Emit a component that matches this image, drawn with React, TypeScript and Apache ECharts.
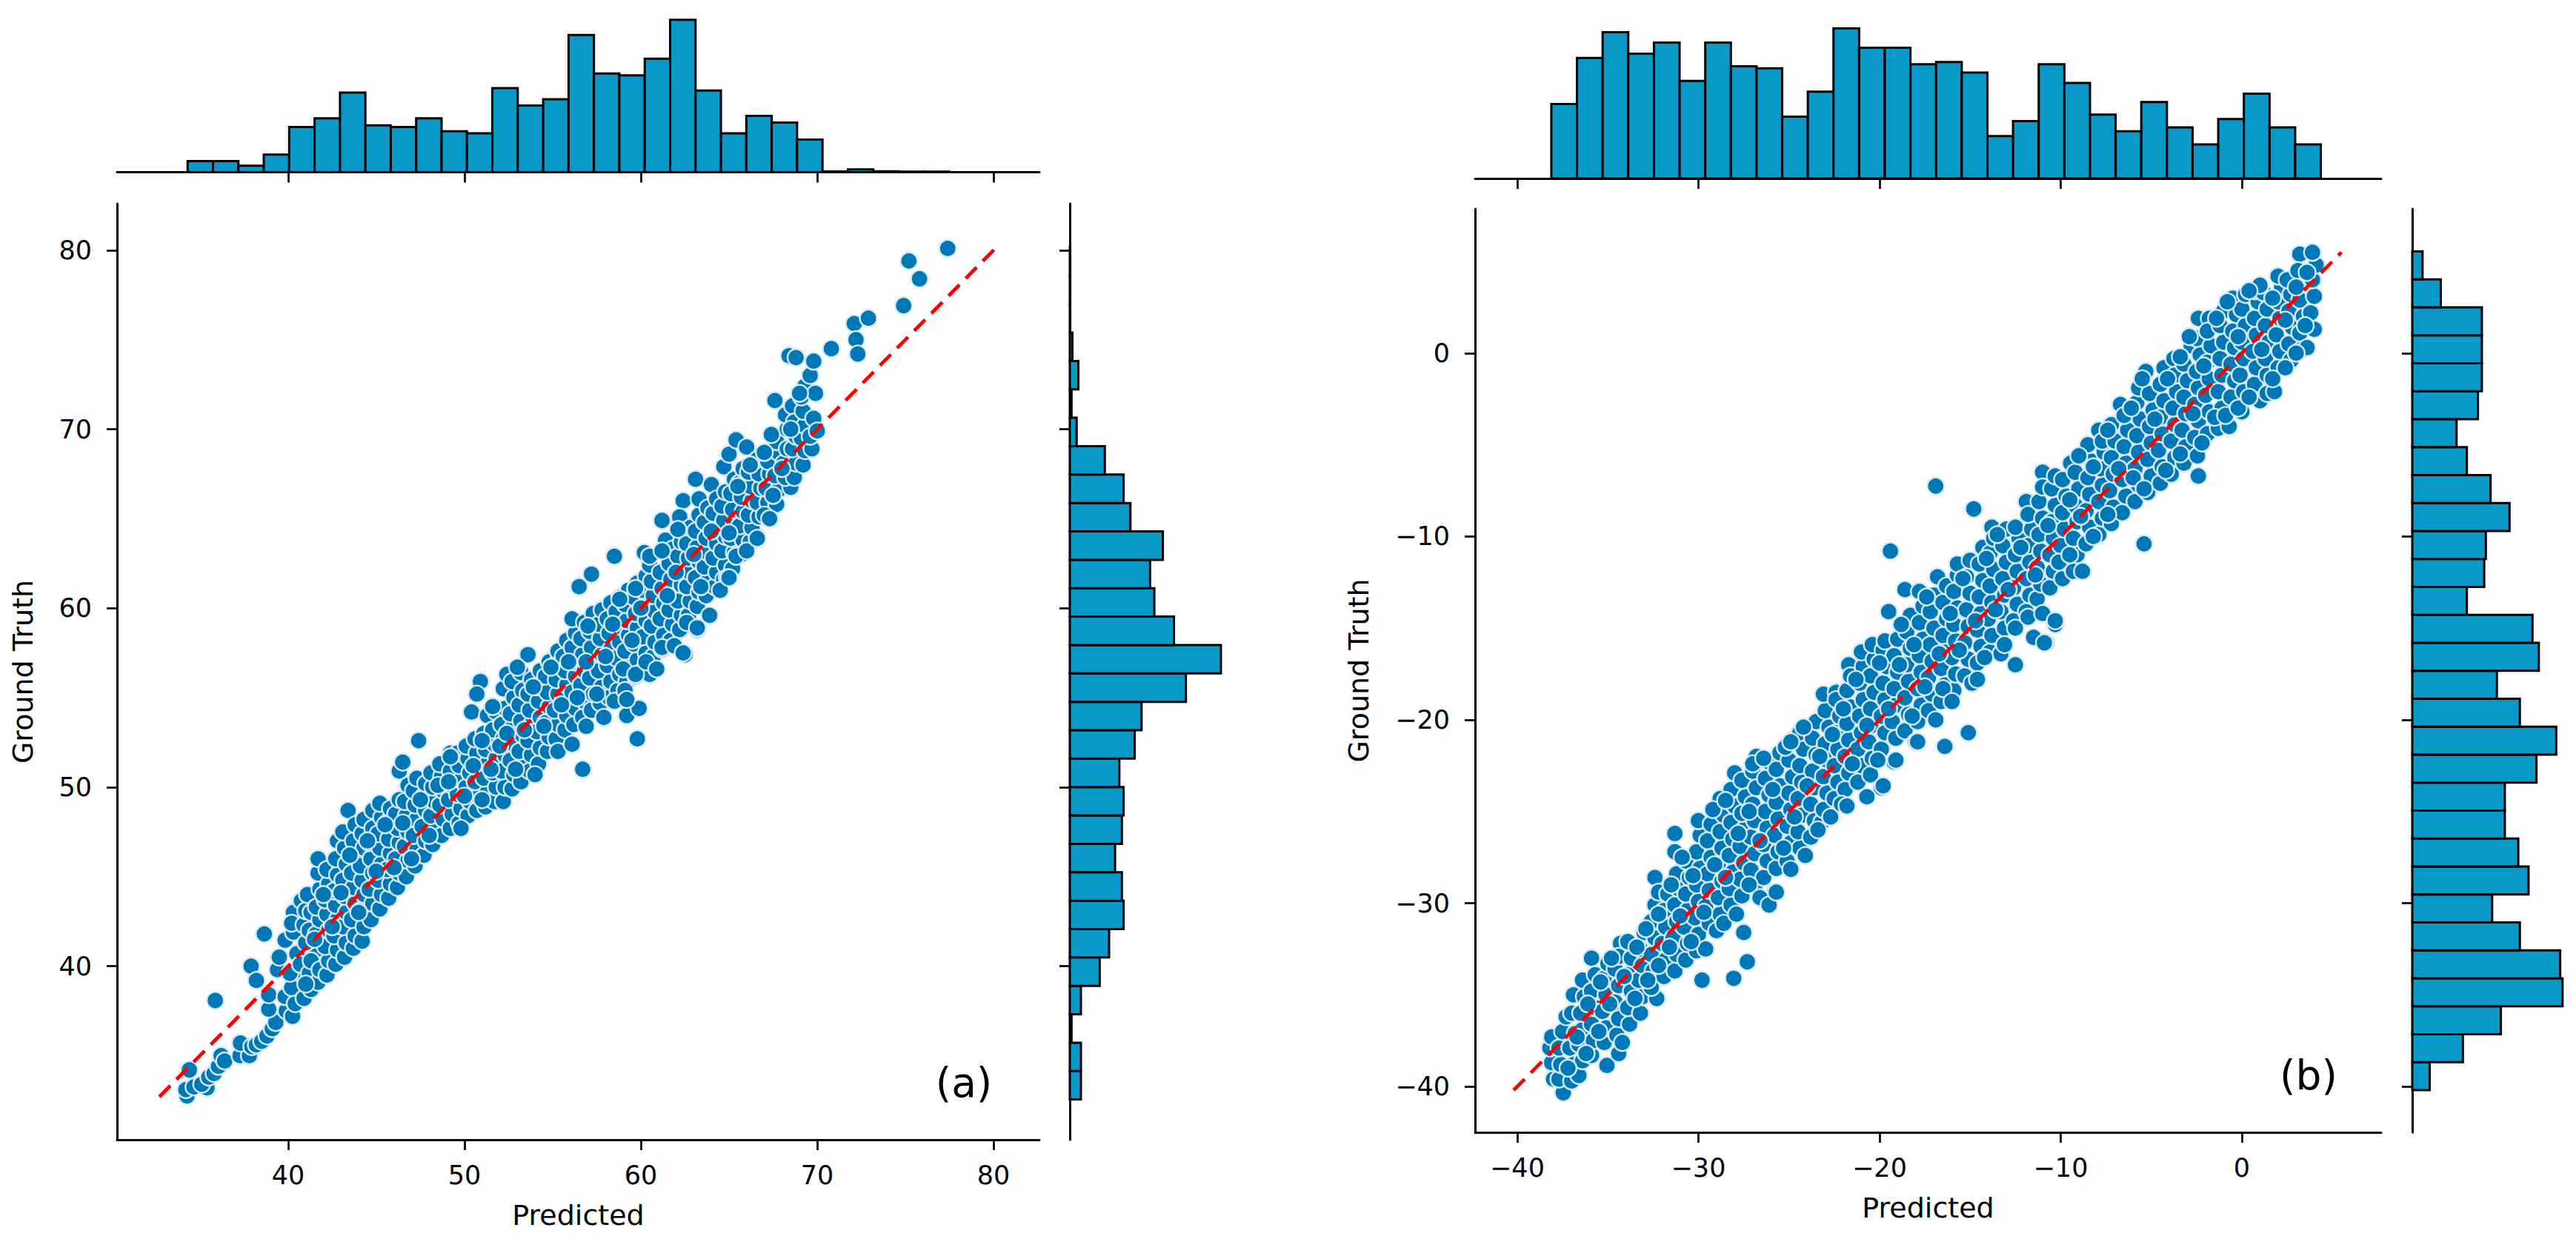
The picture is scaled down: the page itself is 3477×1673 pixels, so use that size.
import React, { useEffect, useRef } from "react";
import * as echarts from "echarts";

const ticksA = [40, 50, 60, 70, 80];
const ticksB = [-40, -30, -20, -10, 0];
const rangeA = [30.3, 82.6];
const rangeBx = [-42.33, 7.69];
const rangeBy = [-42.5, 7.87];

const lineA = [[32.7, 32.7], [80.2, 80.2]];
const lineB = [[-40.2, -40.2], [5.5, 5.5]];

const topBinsA = { start: 34.3, width: 1.44 };
const rightBinsA = { start: 32.55, width: 1.587 };
const topBinsB = { start: -38.12, width: 1.416 };
const rightBinsB = { start: -40.2, width: 1.525 };

const topHistA = [7.3, 7.3, 4.2, 11.5, 29.7, 35.4, 52.3, 30.7, 29.7, 35.4, 26.8, 25.5, 55.2, 43.8, 47.9, 90.1, 64.8, 63.5, 74.5, 100, 53.6, 25.5, 37, 32.6, 21.4, 0.5, 1.8, 0.6, 0.4, 0.4];
const rightHistA = [13, 13, 2, 13, 35, 46, 63, 61, 53, 61, 63, 58, 76, 84, 136, 177, 122, 99, 94, 109, 71, 63, 41, 8, 2, 10, 3, 0.5, 0.5, 0.5];
const topHistB = [188, 304, 369, 315, 343, 246, 343, 283, 278, 156, 219, 379, 330, 330, 288, 294, 267, 107, 145, 288, 241, 161, 119, 193, 129, 86, 150, 214, 129, 86];
const rightHistB = [22, 64, 112, 190, 187, 136, 101, 147, 134, 117, 117, 157, 182, 136, 107, 160, 152, 69, 91, 93, 123, 99, 69, 56, 83, 88, 88, 88, 36, 13];

const pointsA: number[][] = [
[34.27,32.75],[34.2,33.1],[34.66,33.25],[34.4,34.2],[35.4,33.2],[35.1,33.4],[35.5,33.8],[35.8,34.0],[36.05,34.4],[36.2,35],[36.4,34.7],[35.87,38.08],
[37.27,35],[37.8,35],[37.3,35.7],[37.94,35.5],[38.2,35.6],[38.5,35.8],[38.8,36.1],[39.1,36.5],[39.3,36.85],[37.9,40],[38.65,41.8],[38.9,37.6],[39.9,37.5],[40.25,37.2],[38.9,38.4],[39.83,38.3],[38.2,39.2],[39.4,39.8],[39.5,40.5],[39.83,41.45],[40.3,43],[40.75,43.65],[41.6,40.9],[40.9,39.4],[40.5,40.7],
[40.4,37.9],[40.2,38.8],[40.1,39.6],[40.3,41.9],[40.2,42.4],[40.9,38.2],[40.7,40.1],[41.0,41.3],[40.9,42.3],[41.0,43.1],
[41.3,38.7],[41.2,39.6],[41.3,40.3],[41.2,42.0],[41.3,43.0],[41.1,44.0],[41.7,39.1],[41.8,39.8],[41.6,41.8],[41.8,42.6],[41.6,43.3],[41.8,44.3],[41.7,45.2],[41.7,46.0],
[42.2,39.5],[42.3,40.3],[42.1,41.1],[42.3,42.0],[42.2,42.9],[42.1,43.7],[42.3,44.6],[42.2,45.4],[42.7,40.1],[42.8,40.9],[42.6,41.7],[42.8,42.6],[42.7,43.4],[42.6,44.2],[42.8,45.1],[42.7,46.0],[42.8,47.0],
[43.2,40.5],[43.3,41.3],[43.1,42.2],[43.3,43.0],[43.2,43.9],[43.1,44.8],[43.3,45.7],[43.2,46.6],[43.1,47.5],[43.4,48.7],[43.7,41.0],[43.8,41.7],[43.6,42.6],[43.8,43.5],[43.7,44.4],[43.6,45.2],[43.8,46.1],[43.7,47.0],[43.8,47.9],
[44.2,41.4],[44.3,42.2],[44.1,43.1],[44.3,44.0],[44.2,44.8],[44.1,45.6],[44.3,46.6],[44.2,47.4],[44.3,48.2],[44.7,42.6],[44.8,43.5],[44.6,44.3],[44.8,45.2],[44.7,46.0],[44.6,46.9],[44.8,47.7],[44.8,48.7],
[45.2,43.2],[45.3,44.0],[45.1,44.8],[45.3,45.7],[45.2,46.6],[45.1,47.4],[45.3,48.3],[45.2,49.1],[45.7,43.8],[45.8,44.6],[45.6,45.4],[45.8,46.3],[45.7,47.1],[45.6,48.0],[45.8,48.8],
[46.2,44.4],[46.3,45.2],[46.1,46.0],[46.3,46.9],[46.2,47.7],[46.1,48.5],[46.3,49.3],[46.3,50.9],[46.7,45.0],[46.8,45.9],[46.6,46.7],[46.8,47.5],[46.7,48.4],[46.6,49.2],[46.8,50.1],[46.5,51.4],
[47.2,45.6],[47.3,46.5],[47.1,47.3],[47.3,48.2],[47.2,49.0],[47.1,49.8],[47.3,50.5],[47.4,52.6],[47.7,46.2],[47.8,47.0],[47.6,47.8],[47.8,48.7],[47.7,49.5],[47.8,50.2],
[48.2,46.8],[48.3,47.6],[48.1,48.4],[48.3,49.2],[48.2,50.0],[48.1,50.8],[48.7,47.3],[48.8,48.2],[48.6,49.0],[48.8,49.8],[48.7,50.6],[48.6,51.3],
[49.2,47.7],[49.3,48.5],[49.1,49.3],[49.3,50.1],[49.2,50.9],[49.2,51.9],[49.7,48.0],[49.8,48.8],[49.6,49.6],[49.8,50.4],[49.7,51.2],[49.6,51.9],
[50.2,48.4],[50.3,49.2],[50.1,50.0],[50.3,50.8],[50.2,51.6],[50.1,52.3],[50.4,54.2],[50.9,55.9],[50.7,55.2],[50.7,48.7],[50.8,49.5],[50.6,50.3],[50.8,51.1],[50.7,51.9],[50.6,52.7],
[51.2,48.9],[51.3,49.7],[51.1,50.5],[51.3,51.3],[51.2,52.1],[51.1,53.0],[51.3,54.0],[51.7,49.2],[51.8,50.0],[51.6,50.8],[51.8,51.6],[51.7,52.4],[51.6,53.2],[51.8,54.2],
[52.2,49.2],[52.3,50.0],[52.1,50.9],[52.3,51.8],[52.2,52.7],[52.1,53.5],[52.3,54.4],[52.2,55.5],[52.4,56.3],[52.7,49.9],[52.8,50.7],[52.6,51.5],[52.8,52.4],[52.7,53.3],[52.6,54.1],[52.8,55.0],[52.7,55.9],
[53.2,50.3],[53.3,51.1],[53.1,52.0],[53.3,52.9],[53.2,53.7],[53.1,54.6],[53.3,55.4],[53.2,56.4],[53.7,50.9],[53.8,51.8],[53.6,52.6],[53.8,53.5],[53.7,54.3],[53.6,55.2],[53.8,56.0],[53.6,57.4],
[54.2,51.3],[54.3,52.2],[54.1,53.1],[54.3,53.9],[54.2,54.8],[54.1,55.6],[54.3,56.5],[54.7,52.0],[54.8,52.8],[54.6,53.6],[54.8,54.5],[54.7,55.3],[54.6,56.2],[54.8,57.0],
[55.2,52.7],[55.3,53.5],[55.1,54.3],[55.3,55.2],[55.2,56.0],[55.1,56.8],[55.3,57.6],[55.7,53.2],[55.8,54.0],[55.6,54.9],[55.8,55.7],[55.7,56.5],[55.6,57.3],[55.8,58.2],
[56.2,53.5],[56.3,54.4],[56.1,55.3],[56.3,56.2],[56.2,57.0],[56.1,57.8],[56.3,58.6],[56.1,59.4],[56.5,61.2],[56.7,51.0],[56.7,53.9],[56.8,54.8],[56.6,55.7],[56.8,56.5],[56.7,57.4],[56.6,58.3],[56.8,59.2],
[57.2,54.3],[57.3,55.2],[57.1,56.1],[57.3,57.0],[57.2,57.8],[57.1,58.7],[57.3,59.7],[57.2,61.9],[57.7,54.7],[57.8,55.6],[57.6,56.5],[57.8,57.4],[57.7,58.3],[57.6,59.1],[57.8,59.9],
[58.2,55.0],[58.3,55.9],[58.1,56.8],[58.3,57.7],[58.2,58.6],[58.1,59.4],[58.3,60.3],[58.5,62.9],[58.7,55.4],[58.8,56.3],[58.6,57.2],[58.8,58.1],[58.7,59.0],[58.6,59.8],[58.8,60.6],
[59.8,52.7],[59.2,54.0],[59.9,54.4],[59.2,55.9],[59.3,56.7],[59.1,57.6],[59.3,58.5],[59.2,59.3],[59.1,60.2],[59.3,61.0],[59.7,56.2],[59.8,57.1],[59.6,58.0],[59.8,58.9],[59.7,59.7],[59.6,60.6],[59.8,61.4],
[60.2,56.6],[60.5,56.3],[60.3,57.5],[60.1,58.4],[60.3,59.3],[60.2,60.1],[60.1,61.0],[60.3,61.8],[60.2,63.1],[60.7,57.3],[60.8,58.1],[60.6,59.0],[60.8,59.8],[60.7,60.7],[60.6,61.5],[60.5,62.4],
[61.2,57.7],[61.3,58.5],[61.1,59.4],[61.3,60.3],[61.2,61.1],[61.1,62.0],[61.4,63.8],[61.2,64.9],[61.7,58.2],[61.8,59.1],[61.6,59.9],[61.8,60.8],[61.7,61.6],[61.6,62.5],[61.8,63.3],
[62.5,57.4],[62.2,58.8],[62.3,59.6],[62.1,60.4],[62.3,61.3],[62.2,62.1],[62.1,62.9],[62.3,63.7],[62.4,66],[62.2,65.1],[62.7,59.6],[62.8,60.4],[62.6,61.2],[62.8,62.0],[62.7,62.8],[62.6,63.6],[62.8,64.5],
[63.2,58.8],[63.2,60.1],[63.3,60.9],[63.1,61.7],[63.3,62.6],[63.2,63.4],[63.1,64.3],[63.3,65.2],[63.1,67.2],[63.3,66.1],[63.7,60.7],[63.8,61.5],[63.6,62.3],[63.8,63.1],[63.7,63.9],[63.6,64.8],[63.8,65.6],[64,66.9],
[64.2,61.2],[64.3,62.0],[64.1,62.8],[64.3,63.6],[64.2,64.4],[64.1,65.3],[64.3,66.1],[64.7,67.9],[64.7,61.6],[64.8,62.4],[64.6,63.2],[64.8,64.0],[64.7,64.9],[64.6,65.7],[64.8,66.5],
[65.2,62.2],[64.9,61.7],[65.3,63.1],[65.1,63.9],[65.3,64.7],[65.2,65.5],[65.1,66.4],[65.3,67.2],[65,68.6],[65.4,69.4],[65.4,62.9],[65.7,63.0],[65.8,63.8],[65.6,64.6],[65.8,65.4],[65.7,66.2],[65.6,67.0],[65.8,67.8],[66,69],
[66.2,63.7],[66.6,64],[66.3,64.5],[66.1,65.2],[66.3,66.0],[66.2,66.8],[66.1,67.6],[66.7,65.1],[66.6,65.9],[66.8,66.7],[66.7,67.5],[66.6,68.3],
[67.3,65],[67.2,65.9],[67.1,66.7],[67.3,67.5],[67.2,68.2],[67.7,65.8],[67.8,66.6],[67.6,67.4],[67.8,68.7],[67.7,69.3],[67.6,71.6],
[68.5,66.75],[68.2,67.3],[68.1,68.1],[68.3,68.9],[68.3,70],[68.2,70.8],[68.6,71.3],[68.7,67.3],[68.8,68.1],[68.6,68.9],[68.8,69.6],[68.7,70.4],[68.4,74.1],[68.8,74],
[69.2,68.0],[69.3,68.8],[69.1,69.5],[69.3,70.2],[69.2,71.0],[69.3,72.4],[69.1,71.8],[69.7,68.9],[69.6,69.6],[69.8,70.6],[69.6,73],[69.9,72],[69.8,73.8],[70,69.9],
[70.8,74.5],[72.1,75.9],[72.2,75],[72.3,74.2],[72.9,76.2],[74.9,76.9],[75.8,78.4],[75.2,79.4],[77.4,80.1]
];

const extraA: number[][] = [
[41.0,39.0],[41.5,41.5],[42.0,44.0],[42.5,42.2],[43.0,44.1],[43.5,46.2],[44.0,43.0],[44.5,47.0],[45.0,45.3],[45.5,47.9],[46.0,45.5],[46.5,48.0],[47.0,46.0],[47.5,49.3],[48.0,47.3],[48.5,50.1],[49.1,50.3],[49.2,51.7],[49.8,47.7],[50.0,49.5],[50.5,51.2],[51.0,49.3],[51.0,52.6],[51.6,54.5],[51.5,51.0],[52.0,52.3],[52.4,53.0],[52.9,51.0],[53.0,56.7],[53.4,53.2],[53.9,55.6],[54.0,50.7],[54.5,53.4],[54.9,56.7],[55.3,52.0],[55.5,54.6],[55.9,57.0],[56.1,52.4],[56.4,55.0],[56.9,53.4],[56.9,57.0],[57.0,59.0],[57.5,55.2],[57.9,53.9],[58.0,57.3],[58.4,59.1],[58.8,60.5],[58.5,54.8],[59.0,56.6],[59.1,55.4],[59.2,54.9],[59.5,58.2],[59.7,56.3],[59.7,61.1],[60.0,60.0],[60.3,57],[60.5,62.9],[60.9,56.6],[61.2,57.8],[61.2,63.2],[61.5,60.7],[61.9,57.9],[62.0,62.0],[62.1,64.4],[62.4,57.5],[62.6,59.2],[63.0,63.0],[63.2,58.9],[63.4,61.2],[63.9,59.6],[64.0,64.3],[64.5,61.0],[65.0,61.7],[65.0,64.2],[65.4,62.9],[65.5,66.8],[66.0,63.2],[66.2,68.0],[66.6,63.9],[67.0,65.2],[67.3,65.0],[67.0,68.7],[67.5,66.3],[68.0,67.8],[67.4,69.7],[68.5,70.0],[69,72.0]
];

const pointsB: number[][] = [
[-37.46,-40.34],[-38.0,-39.6],[-38.1,-38.7],[-38.2,-37.9],[-38.1,-37.3],[-37.7,-39.6],[-37.6,-38.8],[-37.7,-37.9],[-37.5,-37.0],[-37.3,-36.2],[-36.9,-35],[-37.0,-39.7],[-36.9,-38.8],[-37.1,-37.9],[-36.8,-37.1],[-37.0,-36.0],
[-36.6,-39.4],[-36.4,-38.6],[-36.6,-37.7],[-36.4,-36.9],[-36.5,-36.0],[-36.3,-35.1],[-36.4,-34.2],[-35.9,-33],[-35.9,-38.3],[-35.05,-38.85],[-35.8,-37.5],[-35.9,-36.6],[-35.7,-35.7],[-35.9,-34.8],[-35.7,-33.9],
[-35.2,-37.6],[-35.1,-36.8],[-35.3,-35.9],[-35.1,-35.0],[-35.2,-34.1],[-35.0,-33.3],[-34.4,-38.2],[-34.5,-37.2],[-34.4,-36.3],[-34.6,-35.4],[-34.4,-34.5],[-34.6,-33.6],[-34.3,-32.2],[-34.4,-32.9],
[-33.8,-36.6],[-33.9,-35.7],[-33.7,-34.8],[-33.9,-33.9],[-33.7,-33.0],[-33.9,-32.1],[-33.2,-36.0],[-33.1,-35.1],[-33.3,-34.2],[-33.1,-33.4],[-33.2,-32.5],[-33.0,-31.6],
[-32.3,-35.2],[-32.6,-34.6],[-32.5,-33.7],[-32.6,-32.8],[-32.4,-31.9],[-32.6,-31.0],[-32.4,-30.1],[-32.4,-28.6],[-32.2,-29.4],[-31.9,-34.0],[-31.8,-33.1],[-32.0,-32.2],[-31.8,-31.3],[-31.9,-30.4],[-31.7,-29.5],
[-31.3,-33.7],[-31.2,-32.8],[-31.4,-31.9],[-31.2,-31.0],[-31.3,-30.1],[-31.1,-29.2],[-31.2,-28.4],[-31.3,-27.2],[-31.3,-26.2],[-30.7,-33.1],[-30.6,-32.2],[-30.8,-31.3],[-30.6,-30.4],[-30.7,-29.5],[-30.5,-28.6],[-30.7,-27.7],
[-30.1,-32.6],[-29.8,-34.2],[-30.0,-31.7],[-30.2,-30.8],[-30.0,-29.9],[-30.1,-29.0],[-29.9,-28.1],[-30.1,-27.2],[-29.9,-26.3],[-30.0,-25.5],[-29.6,-32.5],[-29.4,-31.1],[-29.6,-30.2],[-29.4,-29.3],[-29.5,-28.4],[-29.3,-27.5],[-29.5,-26.6],[-29.3,-25.7],[-29.1,-24.9],
[-28.8,-30.6],[-29.0,-31.5],[-28.9,-29.7],[-28.7,-28.8],[-28.9,-27.9],[-28.7,-27.0],[-28.8,-26.1],[-28.6,-25.2],[-28.8,-24.3],[-28.2,-30.1],[-28.05,-34.1],[-28.3,-29.2],[-28.1,-28.3],[-28.3,-27.4],[-28.1,-26.5],[-28.2,-25.6],[-28.0,-24.7],[-28.2,-23.8],[-28.0,-22.9],
[-27.6,-29.6],[-27.5,-31.6],[-27.3,-33.2],[-27.7,-28.7],[-27.5,-27.8],[-27.7,-26.9],[-27.5,-26.0],[-27.6,-25.1],[-27.4,-24.2],[-27.6,-23.3],[-26.9,-29.1],[-27.1,-28.2],[-26.9,-27.3],[-27.1,-26.4],[-26.9,-25.5],[-27.0,-24.6],[-26.8,-23.7],[-27.0,-22.8],[-26.8,-22.0],
[-26.4,-28.6],[-26.2,-27.7],[-26.4,-26.8],[-26.2,-25.9],[-26.3,-25.0],[-26.1,-24.1],[-26.3,-23.2],[-26.1,-22.3],[-25.8,-29.4],[-25.7,-28.1],[-25.6,-27.2],[-25.8,-26.3],[-25.6,-25.4],[-25.7,-24.5],[-25.5,-23.6],[-25.7,-22.7],[-25.5,-21.8],
[-25.1,-27.7],[-24.9,-28.15],[-24.9,-26.7],[-25.1,-25.8],[-24.9,-24.9],[-25.0,-24.0],[-24.8,-23.1],[-25.0,-22.2],[-24.8,-21.1],[-24.4,-27.0],[-24.5,-26.1],[-24.3,-25.2],[-24.5,-24.3],[-24.3,-23.4],[-24.4,-22.5],[-24.2,-21.6],[-24.4,-20.7],
[-23.8,-26.4],[-23.6,-25.5],[-23.8,-24.6],[-23.6,-23.7],[-23.7,-22.8],[-23.5,-21.9],[-23.7,-21.0],[-23.5,-20.1],[-23.2,-25.6],[-23.1,-24.9],[-22.9,-24.0],[-23.1,-23.1],[-22.9,-22.2],[-23.0,-21.3],[-22.8,-20.4],[-23.0,-19.5],[-23.1,-18.6],[-22.4,-18.5],
[-22.5,-24.3],[-22.3,-23.4],[-22.5,-22.5],[-22.3,-21.6],[-22.4,-20.7],[-22.2,-19.8],[-22.4,-18.9],[-21.9,-23.8],[-21.7,-22.9],[-21.9,-22.0],[-21.7,-21.1],[-21.8,-20.2],[-21.6,-19.3],[-21.8,-18.4],[-21.7,-17],[-21.6,-17.6],
[-21.2,-23.4],[-21.0,-22.5],[-21.2,-21.6],[-21.0,-20.7],[-21.1,-19.8],[-20.9,-18.9],[-21.1,-18.0],[-20.9,-17.1],[-21.0,-16.3],[-20.5,-23.0],[-20.4,-22.1],[-20.6,-21.2],[-20.4,-20.3],[-20.5,-19.4],[-20.3,-18.5],[-20.5,-17.6],[-20.3,-16.7],[-20.4,-15.9],
[-19.9,-23.7],[-19.9,-21.6],[-19.7,-20.7],[-19.9,-19.8],[-19.7,-18.9],[-19.8,-18.0],[-19.6,-17.1],[-19.8,-16.2],[-19.7,-15.7],[-19.5,-14.1],[-19.4,-10.8],[-19.2,-22.3],[-19.1,-21.0],[-19.3,-20.1],[-19.1,-19.2],[-19.2,-18.3],[-19.0,-17.4],[-19.2,-16.5],[-19.0,-15.6],
[-18.6,-20.6],[-18.4,-19.7],[-18.6,-18.8],[-18.4,-17.9],[-18.5,-17.0],[-18.3,-16.1],[-18.5,-15.2],[-18.3,-14.3],[-18.6,-12.9],[-18.0,-21.2],[-17.9,-20.1],[-17.7,-19.2],[-17.9,-18.3],[-17.7,-17.4],[-17.8,-16.5],[-17.6,-15.6],[-17.8,-14.7],[-17.6,-13.8],[-17.8,-13.0],
[-17.3,-19.5],[-17.1,-18.6],[-17.3,-17.7],[-17.1,-16.8],[-17.2,-15.9],[-17.0,-15.0],[-17.2,-14.1],[-17.0,-13.2],[-16.8,-12.2],[-16.9,-7.25],[-16.4,-21.45],[-16.6,-19.0],[-16.4,-18.1],[-16.6,-17.2],[-16.4,-16.3],[-16.5,-15.4],[-16.3,-14.5],[-16.5,-13.6],[-16.3,-12.7],
[-15.1,-20.7],[-15.9,-18.4],[-15.8,-17.5],[-16.0,-16.6],[-15.8,-15.7],[-15.9,-14.8],[-15.7,-13.9],[-15.9,-13.0],[-15.7,-12.1],[-15.7,-11.5],[-15.3,-17.6],[-15.1,-16.7],[-15.3,-15.8],[-15.1,-14.9],[-15.2,-14.0],[-15.0,-13.1],[-15.2,-12.2],[-15.0,-11.3],
[-14.8,-8.5],[-14.6,-16.9],[-14.4,-16.0],[-14.6,-15.1],[-14.4,-14.2],[-14.5,-13.3],[-14.3,-12.4],[-14.5,-11.5],[-14.3,-10.6],[-13.9,-16.3],[-13.8,-15.4],[-14.0,-14.5],[-13.8,-13.6],[-13.9,-12.7],[-13.7,-11.8],[-13.9,-10.9],[-13.8,-9.5],[-13.7,-10.1],
[-13.3,-16.4],[-13.1,-15.0],[-13.3,-14.1],[-13.1,-13.2],[-13.2,-12.3],[-13.0,-11.4],[-13.2,-10.5],[-13.0,-9.6],[-12.5,-17],[-12.6,-14.6],[-12.4,-13.7],[-12.6,-12.8],[-12.4,-11.9],[-12.5,-11.0],[-12.3,-10.1],[-12.5,-9.5],[-11.9,-8.1],
[-11.9,-14.1],[-11.7,-13.2],[-11.9,-12.3],[-11.7,-11.4],[-11.8,-10.5],[-11.6,-9.6],[-11.8,-8.8],[-10.8,-15.8],[-11.3,-13.4],[-11.1,-12.6],[-11.3,-11.7],[-11.1,-10.8],[-11.2,-9.9],[-11.0,-9.0],[-11.2,-8.1],[-11,-6.5],[-11.0,-7.3],
[-10.3,-14.8],[-10.6,-12.8],[-10.4,-11.9],[-10.6,-11.0],[-10.4,-10.1],[-10.5,-9.2],[-10.3,-8.3],[-10.5,-7.4],[-10.3,-6.7],[-9.9,-12.3],[-9.8,-11.4],[-10.0,-10.5],[-9.8,-9.6],[-9.9,-8.7],[-9.7,-7.8],[-9.9,-6.9],[-9.45,-6],
[-9.3,-11.9],[-9.1,-11.0],[-9.3,-10.1],[-9.1,-9.2],[-9.2,-8.3],[-9.0,-7.4],[-9.2,-6.5],[-8.8,-11.9],[-8.6,-10.4],[-8.4,-9.5],[-8.6,-8.6],[-8.4,-7.7],[-8.5,-6.8],[-8.3,-5.9],[-8.5,-5.0],
[-7.9,-9.9],[-7.7,-9.0],[-7.9,-8.1],[-7.7,-7.2],[-7.8,-6.3],[-7.6,-5.4],[-7.9,-4.2],[-7.7,-4.8],[-7.2,-9.3],[-7.1,-8.4],[-7.3,-7.5],[-7.1,-6.6],[-7.2,-5.7],[-7.0,-4.8],[-7.2,-3.9],
[-6.6,-8.7],[-6.4,-7.8],[-6.6,-6.9],[-6.4,-6.0],[-6.5,-5.1],[-6.3,-4.2],[-6.7,-2.8],[-6.5,-3.4],[-5.9,-8.1],[-5.7,-7.2],[-5.9,-6.3],[-5.7,-5.4],[-5.8,-4.5],[-5.6,-3.6],[-5.8,-2.7],[-5.7,-1.9],
[-5.4,-10.4],[-5.2,-7.6],[-5.0,-6.7],[-5.2,-5.8],[-5.0,-4.9],[-5.1,-4.0],[-4.9,-3.1],[-5.1,-2.2],[-5.3,-1],[-4.5,-7.1],[-4.4,-6.2],[-4.6,-5.3],[-4.4,-4.4],[-4.5,-3.5],[-4.3,-2.6],[-4.5,-1.7],[-4.3,-0.8],
[-3.9,-6.6],[-3.7,-5.7],[-3.9,-4.8],[-3.7,-3.9],[-3.8,-3.0],[-3.6,-2.1],[-3.75,-0.3],[-3.7,-1.2],[-3.2,-6.0],[-3.1,-5.1],[-3.3,-4.2],[-3.1,-3.3],[-3.2,-2.4],[-3.0,-1.5],[-3.2,-0.6],[-2.8,0.4],
[-2.4,-6.7],[-2.45,-5.6],[-2.6,-4.6],[-2.4,-3.7],[-2.6,-2.8],[-2.4,-1.9],[-2.5,-1.0],[-2.3,-0.1],[-2.4,1.9],[-2.5,0.8],[-1.9,-4.4],[-1.8,-3.2],[-2.0,-2.3],[-1.8,-1.4],[-1.9,-0.5],[-1.7,0.4],[-1.8,1.9],[-1.9,1.2],
[-1.3,-4.1],[-1.1,-3.0],[-1.3,-2.1],[-1.1,-1.2],[-1.2,-0.3],[-1.0,0.6],[-1.2,1.5],[-1.0,2.3],[-0.7,-4],[-0.6,-2.4],[-0.4,-1.5],[-0.6,-0.6],[-0.4,0.3],[-0.5,1.2],[-0.3,2.1],[-0.5,3],
[0,-3.2],[0.1,-2.1],[-0.1,-1.2],[0.1,-0.3],[0,0.6],[0.2,1.5],[0,2.4],[0.2,3.2],[0.7,-1.7],[0.8,-0.8],[0.6,0.1],[0.8,1.0],[0.7,1.9],[0.9,2.8],[0.7,3.4],
[1,-2.6],[1.4,-2.2],[1.4,-1.2],[1.3,-0.3],[1.5,0.6],[1.3,1.5],[1.4,2.4],[1.2,3.3],[1,3.7],[1.8,-2.1],[2.0,-0.8],[2.1,0.1],[1.9,1.0],[2.1,1.9],[2.0,2.8],[2.2,3.6],[2,4.2],
[2.7,-0.4],[2.6,0.5],[2.8,1.4],[2.6,2.3],[2.7,3.2],[2.5,4.0],[3.3,0.2],[3.2,1.1],[3.4,2.0],[3.2,2.9],[3.3,3.8],[3.2,5.4],[3.1,4.5],
[3.6,0.3],[4,1.3],[3.8,2.2],[4.0,3.1],[3.9,4.0],[4.1,4.8],[3.9,5.5]
];

const extraB: number[][] = [
[-37.2,-39.0],[-36.7,-37.3],[-36.2,-38.2],[-36.1,-35.5],[-35.5,-37.0],[-35.4,-34.3],[-34.9,-35.5],[-34.8,-33],[-34.2,-37.6],[-34.1,-34.0],[-33.5,-35.2],[-33.4,-32.4],[-32.8,-34.2],[-32.9,-31.4],[-32.2,-33.4],[-32.2,-30.6],[-31.6,-32.4],[-31.5,-29.0],[-31.0,-30.7],[-30.9,-27.5],[-30.4,-32.1],[-30.3,-28.5],[-29.7,-30.5],[-29.2,-24.9],[-29.1,-27.9],[-28.5,-24.4],[-28.6,-31.1],[-28.5,-28.6],[-27.9,-30.6],[-27.8,-26.2],[-27.2,-29.0],[-27.0,-22.4],[-27.2,-25.0],[-26.4,-22.1],[-26.6,-29.7],[-26.6,-26.6],[-26.1,-30.1],[-25.9,-23.8],[-25.7,-29.4],[-25.3,-27.0],[-25.2,-21.5],[-24.9,-21.2],[-24.7,-25.3],[-24.2,-20.4],[-24.1,-27.4],[-24.0,-23.6],[-23.4,-26.0],[-23.3,-22.0],[-22.7,-25.3],[-22.6,-20.8],[-22.1,-24.6],[-22.0,-19.4],[-21.8,-24.7],[-21.5,-22.4],[-21.3,-17.8],[-20.7,-24.2],[-20.7,-20.3],[-20.1,-22.2],[-20.0,-16.9],[-19.8,-23.6],[-19.5,-19.4],[-19.1,-22.2],[-18.9,-17.0],[-18.8,-14.8],[-18.2,-19.8],[-18.1,-15.9],[-17.9,-21.2],[-17.5,-18.2],[-17.4,-13.3],[-16.9,-20.0],[-16.7,-16.4],[-16.5,-18.3],[-16.1,-14.2],[-16.0,-19],[-15.6,-16.2],[-15.4,-12.3],[-14.9,-18.0],[-14.7,-14.6],[-14.6,-17.8],[-14.2,-16.6],[-14.1,-11.2],[-13.6,-14.0],[-13.5,-9.9],[-13.1,-15.9],[-12.9,-12.9],[-12.5,-15],[-12.2,-10.6],[-11.8,-14.4],[-11.5,-15.5],[-11.4,-12.1],[-11.0,-14.2],[-10.9,-15.8],[-10.7,-9.4],[-10.3,-14.6],[-10.1,-11.4],[-9.5,-8.0],[-9.5,-11.0],[-9.0,-5.6],[-8.9,-8.9],[-8.2,-10.0],[-8.2,-6.2],[-7.4,-8.8],[-7.4,-4.2],[-6.8,-6.3],[-6.0,-6.8],[-6.1,-3.0],[-5.4,-7.4],[-5.5,-1.4],[-4.8,-3.6],[-4.2,-6.4],[-4.1,-1.4],[-3.4,-5.5],[-3.4,-0.2],[-2.7,-3.3],[-2.9,0.9],[-2.2,-4.9],[-2.1,-0.7],[-1.5,-3.5],[-1.4,1.9],[-0.9,-3.4],[-0.8,2.8],[-0.2,-3.0],[-0.2,0.9],[0.4,-2.4],[0.4,3.4],[1.1,0.2],[1.7,-1.4],[1.7,3.0],[2.4,-0.8],[2.4,1.8],[3.0,0.0],[3.0,3.6],[3.5,1.5],[3.6,4.4]
];

const histFill = "#0899c8";
const dotFill = "#0078b8";
const font = "DejaVu Sans";

const vBar = (_: any, api: any) => {
  const a = api.coord([api.value(0), 0]);
  const b = api.coord([api.value(1), api.value(2)]);
  return { type: "rect", shape: { x: a[0], y: b[1], width: b[0] - a[0], height: a[1] - b[1] }, style: { fill: histFill, stroke: "#000", lineWidth: 3 } };
};
const hBar = (_: any, api: any) => {
  const a = api.coord([0, api.value(0)]);
  const b = api.coord([api.value(2), api.value(1)]);
  return { type: "rect", shape: { x: a[0], y: b[1], width: b[0] - a[0], height: a[1] - b[1] }, style: { fill: histFill, stroke: "#000", lineWidth: 3 } };
};
const binned = (vals: number[], bins: { start: number; width: number }) =>
  vals.map((v, i) => [bins.start + i * bins.width, bins.start + (i + 1) * bins.width, v]);

const axisLine = { show: true, onZero: false, lineStyle: { color: "#000", width: 3 } };
const tickOf = (t: number[]) => ({ show: true, length: 14, customValues: t, lineStyle: { color: "#000", width: 2.7 } });
const fmt = (v: number) => String(v).replace("-", "\u2212");

const mainX = (gridIndex: number, r: number[], t: number[]) => ({
  type: "value", gridIndex, min: r[0], max: r[1], axisLine, axisTick: tickOf(t), splitLine: { show: false },
  axisLabel: { customValues: t, formatter: fmt, fontFamily: font, fontSize: 35, color: "#000", margin: 30 },
  name: "Predicted", nameLocation: "middle", nameGap: 83, nameTextStyle: { fontFamily: font, fontSize: 38, color: "#000" },
});
const mainY = (gridIndex: number, r: number[], t: number[], gap: number) => ({
  type: "value", gridIndex, min: r[0], max: r[1], axisLine, axisTick: tickOf(t), splitLine: { show: false },
  axisLabel: { customValues: t, formatter: fmt, fontFamily: font, fontSize: 35, color: "#000", margin: 34 },
  name: "Ground Truth", nameLocation: "middle", nameGap: gap, nameTextStyle: { fontFamily: font, fontSize: 38, color: "#000" },
});
const margX = (gridIndex: number, r: number[], t: number[]) => ({
  type: "value", gridIndex, min: r[0], max: r[1], axisLine, axisTick: tickOf(t), axisLabel: { show: false }, splitLine: { show: false },
});
const margY = (gridIndex: number, r: number[], t: number[]) => ({
  type: "value", gridIndex, min: r[0], max: r[1], axisLine, axisTick: tickOf(t), axisLabel: { show: false }, splitLine: { show: false },
});
const hidden = (gridIndex: number, max: number) => ({ type: "value", gridIndex, min: 0, max, show: false, splitLine: { show: false } });

const scatter = (i: number, data: number[][]) => ({
  type: "scatter", xAxisIndex: i, yAxisIndex: i, data, symbol: "circle", symbolSize: 23, silent: true,
  itemStyle: { color: dotFill, borderColor: "#d8eaf4", borderWidth: 2.4, opacity: 1 },
});
const redLine = (i: number, data: number[][]) => ({
  type: "line", xAxisIndex: i, yAxisIndex: i, data, symbol: "none", silent: true, z: 5,
  lineStyle: { color: "#ff0000", width: 4.8, type: [21, 12] },
});

export default function App() {
  const ref = useRef<HTMLDivElement>(null);
  useEffect(() => {
    document.body.style.margin = "0";
    const chart = echarts.init(ref.current!, undefined, { renderer: "svg" });
    chart.setOption({
      animation: false,
      backgroundColor: "#fff",
      grid: [
        { left: 158, top: 275, width: 1245, height: 1264 },
        { left: 158, top: 16.5, width: 1245, height: 216 },
        { left: 1444, top: 275, width: 214, height: 1264 },
        { left: 1991, top: 282, width: 1223, height: 1247 },
        { left: 1991, top: 28, width: 1223, height: 213 },
        { left: 3256, top: 282, width: 213, height: 1247 },
      ],
      xAxis: [
        mainX(0, rangeA, ticksA), margX(1, rangeA, ticksA), hidden(2, 185.7),
        mainX(3, rangeBx, ticksB), margX(4, rangeBx, ticksB), hidden(5, 199.5),
      ],
      yAxis: [
        mainY(0, rangeA, ticksA, 108), hidden(1, 105), margY(2, rangeA, ticksA),
        mainY(3, rangeBy, ticksB, 138), hidden(4, 398), margY(5, rangeBy, ticksB),
      ],
      series: [
        scatter(0, pointsA.concat(extraA)),
        redLine(0, lineA),
        { type: "custom", xAxisIndex: 1, yAxisIndex: 1, renderItem: vBar, data: binned(topHistA, topBinsA), encode: { x: [0, 1], y: 2 }, silent: true },
        { type: "custom", xAxisIndex: 2, yAxisIndex: 2, renderItem: hBar, data: binned(rightHistA, rightBinsA), encode: { x: 2, y: [0, 1] }, silent: true },
        scatter(3, pointsB.concat(extraB)),
        redLine(3, lineB),
        { type: "custom", xAxisIndex: 4, yAxisIndex: 4, renderItem: vBar, data: binned(topHistB, topBinsB), encode: { x: [0, 1], y: 2 }, silent: true },
        { type: "custom", xAxisIndex: 5, yAxisIndex: 5, renderItem: hBar, data: binned(rightHistB, rightBinsB), encode: { x: 2, y: [0, 1] }, silent: true },
      ],
      graphic: [
        { type: "text", x: 1301, y: 1462, style: { text: "(a)", fontFamily: font, fontSize: 55, fill: "#000", align: "center", verticalAlign: "middle" } },
        { type: "text", x: 3116, y: 1452, style: { text: "(b)", fontFamily: font, fontSize: 55, fill: "#000", align: "center", verticalAlign: "middle" } },
      ],
    });
    return () => chart.dispose();
  }, []);
  return <div ref={ref} style={{ width: 3477, height: 1673 }} />;
}
